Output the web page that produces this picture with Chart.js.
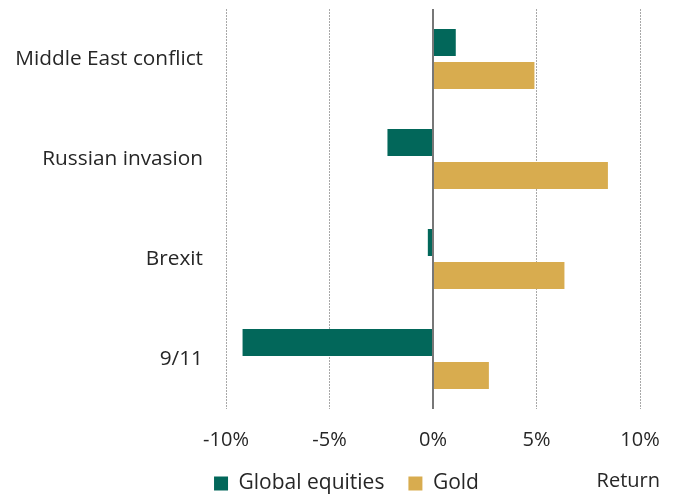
<!DOCTYPE html>
<html>
<head>
<meta charset="utf-8">
<script src="https://cdn.jsdelivr.net/npm/chart.js@4"></script>
<style>
  html, body { margin: 0; padding: 0; background: #fff; }
  #wrap { width: 679px; height: 496px; }
</style>
</head>
<body>
<div id="wrap"><canvas id="barchart" width="679" height="496"></canvas></div>
<script>
const events = ["Middle East conflict", "Russian invasion", "Brexit", "9/11"];
const equities = [1.1, -2.2, -0.25, -9.2];
const gold = [4.9, 8.45, 6.35, 2.7];
const xTicks = [-10, -5, 0, 5, 10];

const green = "#02675a";
const yellow = "#d8ac4f";
const textcolor = "#262626";
const fontfamily = "'Open Sans', sans-serif";

// solid zero line, fixed legend height, and the "Return" note next to the legend
const extras = {
  id: "extras",
  beforeLayout(chart) {
    const lg = chart.legend;
    if (lg && !lg._fixedFit) {
      const fit = lg.fit;
      lg.fit = function () { fit.call(this); this.height = 47; };
      lg._fixedFit = true;
    }
  },
  afterDatasetsDraw(chart) {
    const c = chart.ctx, xs = chart.scales.x, area = chart.chartArea;
    const x0 = Math.round(xs.getPixelForValue(0));
    c.save();
    c.strokeStyle = "#777777";
    c.lineWidth = 2;
    c.beginPath();
    c.moveTo(x0, area.top);
    c.lineTo(x0, area.bottom);
    c.stroke();
    c.restore();
  },
  afterDraw(chart) {
    const c = chart.ctx;
    const box = chart.legend.legendHitBoxes[0];
    c.save();
    c.font = "20px " + fontfamily;
    c.fillStyle = textcolor;
    c.textAlign = "right";
    c.textBaseline = "middle";
    c.fillText("Return", chart.chartArea.right + 20, box.top + box.height / 2 - 2);
    c.restore();
  }
};

function nopad(s) { s.paddingTop = 0; s.paddingBottom = 0; s.paddingLeft = 0; s.paddingRight = 0; }

const ctx = document.getElementById("barchart").getContext("2d");
new Chart(ctx, {
  type: "bar",
  data: {
    labels: events,
    datasets: [
      { label: "Global equities", data: equities, backgroundColor: green,
        barPercentage: 0.82, categoryPercentage: 0.66 },
      { label: "Gold", data: gold, backgroundColor: yellow,
        barPercentage: 0.82, categoryPercentage: 0.66 }
    ]
  },
  options: {
    indexAxis: "y",
    responsive: false,
    animation: false,
    layout: { autoPadding: false, padding: { left: 14, right: 0, top: 9, bottom: 0 } },
    scales: {
      x: {
        min: -10, max: 10,
        afterBuildTicks(s) { s.ticks = xTicks.map(v => ({ value: v })); },
        ticks: { color: textcolor, font: { family: fontfamily, size: 20 }, padding: 19,
                 callback: v => v + "%" },
        grid: { drawTicks: false, color: c => c.tick && c.tick.value === 0 ? "rgba(0,0,0,0)" : "#a8a8a8" },
        border: { display: false, dash: [2, 1] },
        afterFit(s) { s.height = 40; nopad(s); }
      },
      y: {
        ticks: { color: textcolor, font: { family: fontfamily, size: 20.8 }, padding: 23 },
        grid: { display: false, drawTicks: false },
        border: { display: false },
        afterFit(s) { s.width = 212; nopad(s); }
      },
      yr: {
        type: "category", position: "right", labels: events,
        ticks: { display: false }, grid: { display: false }, border: { display: false },
        afterFit(s) { s.width = 39; nopad(s); }
      }
    },
    plugins: {
      legend: {
        position: "bottom",
        labels: { boxWidth: 14, boxHeight: 14, padding: 24, color: textcolor,
                  font: { family: fontfamily, size: 21 } }
      },
      tooltip: { enabled: false }
    }
  },
  plugins: [extras]
});
</script>
</body>
</html>
